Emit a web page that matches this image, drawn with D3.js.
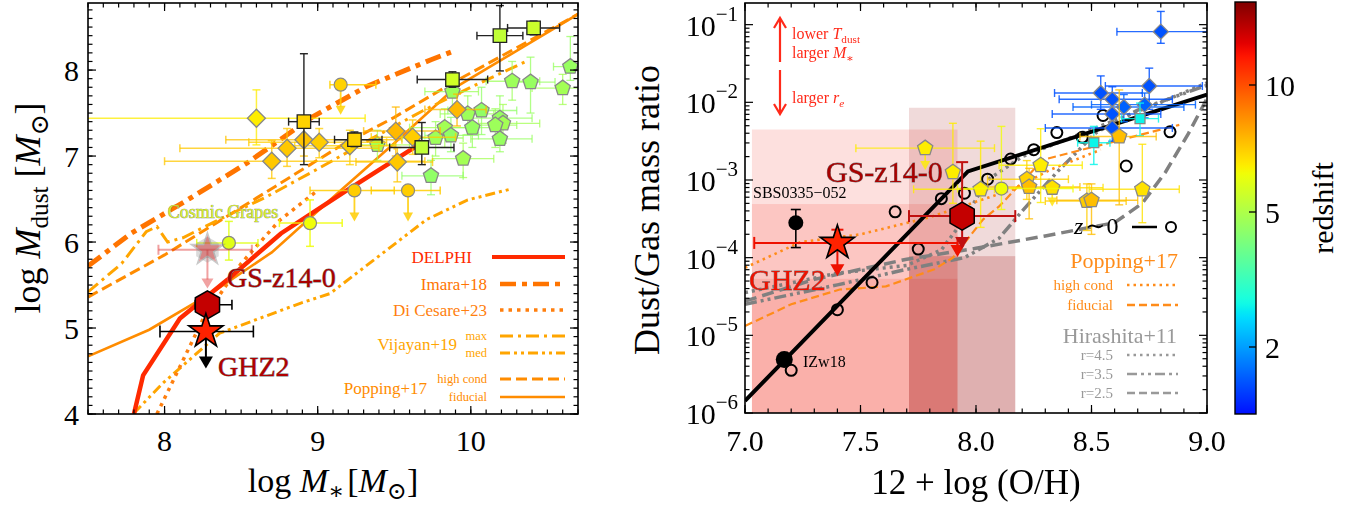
<!DOCTYPE html>
<html><head><meta charset="utf-8">
<script src="https://cdn.jsdelivr.net/npm/d3@7"></script>
<style>
html,body{margin:0;padding:0;background:#fff;}
svg text{font-family:"Liberation Serif","DejaVu Serif","Times New Roman",serif;}
</style></head>
<body><svg id="chart" width="1364" height="510" font-family="Liberation Serif, DejaVu Serif, serif"></svg>
<script>
// ================= DATA =================
// ---- Left panel: model curves (log M*, log Mdust)
const delphiX = [7.80, 7.86, 8.10, 8.41, 8.76, 9.18, 9.64];
const delphiY = [4.00, 4.45, 5.11, 5.56, 6.10, 6.59, 7.11];
const imaraX  = [7.50, 7.78, 8.15, 8.54, 8.97, 9.32, 9.74, 9.90];
const imaraY  = [5.72, 6.10, 6.49, 6.92, 7.46, 7.81, 8.12, 8.23];
const diCesareX = [7.95, 8.10, 8.25, 8.50, 8.75, 9.00];
const diCesareY = [4.00, 4.55, 5.10, 5.75, 6.25, 6.60];
const vijMaxX = [7.50, 7.72, 7.88, 7.95, 8.02, 8.12, 8.40, 8.67, 9.00, 9.35, 9.69, 10.00, 10.36];
const vijMaxY = [5.42, 5.75, 6.12, 6.18, 6.00, 6.05, 6.30, 6.53, 6.85, 7.20, 7.53, 7.80, 8.10];
const vijMedX = [7.80, 7.99, 8.36, 8.89, 9.08, 9.71, 9.98, 10.27];
const vijMedY = [4.01, 4.36, 4.94, 5.29, 5.40, 6.26, 6.49, 6.62];
const popHighX = [7.50, 8.00, 8.50, 9.15, 9.50, 9.90, 10.70];
const popHighY = [5.36, 5.85, 6.40, 7.12, 7.45, 7.87, 8.65];
const popFidX  = [7.50, 7.90, 8.30, 8.70, 9.15, 9.50, 9.90, 10.70];
const popFidY  = [4.67, 4.98, 5.40, 5.88, 6.60, 7.15, 7.80, 8.65];

// ---- Left panel literature points: [logM*, logMdust, z, xlo, xhi, ylo, yhi, upperLimit]
const leftSquares = [
  [8.91, 7.40, 7.0, 8.81, 9.01, 6.90, 8.19, 0],
  [9.24, 7.19, 7.0, 9.11, 9.42, 7.11, 7.28, 0],
  [9.68, 7.10, 5.3, 9.47, 9.89, 6.90, 7.39, 0],
  [9.88, 7.89, 5.6, 9.65, 10.11, 7.80, 7.98, 0],
  [10.19, 8.40, 5.3, 10.04, 10.34, 7.99, 8.75, 0],
  [10.41, 8.49, 5.5, 10.24, 10.58, 8.41, 8.57, 0]
];
const leftDiamonds = [
  [8.60, 7.44, 6.5, 7.30, 9.31, 7.13, 7.77, 0],
  [8.70, 6.94, 7.2, 8.00, 9.70, 6.74, 7.18, 0],
  [8.80, 7.09, 7.2, 8.10, 9.40, 6.88, 7.32, 0],
  [8.91, 7.19, 7.3, 8.40, 9.55, 7.00, 7.36, 0],
  [9.01, 7.16, 7.1, 8.55, 9.45, 6.98, 7.32, 0],
  [9.21, 7.12, 7.0, 8.85, 9.50, 6.90, 7.30, 0],
  [9.51, 7.29, 7.5, 9.30, 9.80, 7.00, 7.57, 0],
  [9.62, 7.22, 7.1, 9.35, 9.90, 7.02, 7.42, 0],
  [9.52, 6.93, 7.2, 9.25, 9.75, 6.70, 7.10, 0],
  [9.91, 7.54, 7.5, 9.70, 10.10, 7.35, 7.72, 0]
];
const leftCircles = [
  [9.15, 7.83, 7.0, 9.08, 9.38, 7.48, null, 1],
  [9.24, 6.60, 7.1, 8.95, 9.50, 6.24, null, 1],
  [9.59, 6.60, 7.1, 9.35, 9.80, 6.24, null, 1],
  [8.95, 6.22, 6.2, 8.75, 9.16, 5.95, 6.49, 0],
  [8.42, 5.99, 5.9, 8.21, 8.61, 5.79, 6.24, 0]
];
const leftPentagons = [
  [10.65, 8.04, 4.6, 10.54, 10.75, 7.88, 8.39, 0],
  [10.27, 7.87, 4.7, 10.10, 10.45, 7.65, 8.10, 0],
  [10.39, 7.86, 4.6, 10.25, 10.55, 7.50, 8.15, 0],
  [10.60, 7.79, 4.8, 10.40, 10.75, 7.60, 7.95, 0],
  [10.07, 7.53, 4.5, 9.85, 10.30, 7.25, 7.80, 0],
  [9.98, 7.49, 4.7, 9.80, 10.15, 7.25, 7.70, 0],
  [10.19, 7.44, 4.6, 10.00, 10.40, 7.20, 7.70, 0],
  [10.21, 7.38, 4.8, 10.05, 10.45, 7.15, 7.60, 0],
  [10.16, 7.36, 4.7, 10.00, 10.30, 7.10, 7.55, 0],
  [10.01, 7.33, 4.6, 9.80, 10.20, 7.10, 7.50, 0],
  [9.83, 7.33, 4.8, 9.60, 10.00, 7.10, 7.55, 0],
  [9.87, 7.24, 4.5, 9.70, 10.05, 7.05, 7.45, 0],
  [9.77, 7.21, 4.7, 9.55, 9.95, 7.00, 7.40, 0],
  [10.19, 7.20, 4.6, 10.00, 10.40, 7.05, 7.40, 0],
  [9.95, 6.97, 4.8, 9.75, 10.15, 6.75, 7.15, 0],
  [9.74, 6.77, 4.5, 9.55, 9.95, 6.55, 6.95, 0],
  [9.88, 7.75, 4.7, 9.70, 10.05, 7.55, 7.90, 0],
  [9.39, 7.13, 4.9, 9.20, 9.60, 6.95, 7.30, 0]
];
// ---- Left panel: highlighted objects [logM*, logMdust, xlo, xhi, arrowTip]
const ghz2Left   = [8.27, 4.96, 7.97, 8.58, 4.53];
const gsz14Left  = [8.28, 5.27, 8.20, 8.44, null];
const grapesLeft = [8.28, 5.91, 7.96, 8.57, 5.46];

// ---- Right panel (12+log(O/H), log10 D/G)
const blackFitX = [7.0, 7.965, 9.0];
const blackFitL = [-5.845, -2.89, -1.90];
const localX = [7.20, 7.40, 7.55, 7.65, 7.75, 7.85, 7.95, 8.05, 8.15, 8.25, 8.35, 8.46, 8.55, 8.65, 8.84];
const localL = [-5.45, -4.67, -4.32, -3.41, -3.89, -3.24, -3.17, -2.99, -2.73, -2.61, -2.39, -2.45, -2.17, -2.82, -2.38];
const popHcX = [7.00, 7.24, 7.50, 7.80, 8.16, 8.32, 8.54];
const popHcL = [-4.13, -3.80, -3.70, -3.48, -3.12, -2.87, -2.61];
const popFdX = [7.00, 7.20, 7.41, 7.61, 7.82, 7.90, 8.03, 8.10, 8.29, 8.88];
const popFdL = [-4.88, -4.60, -4.41, -4.37, -4.15, -4.00, -3.51, -3.34, -2.74, -2.29];
const hir45X = [7.0, 7.4, 7.7, 7.85, 7.95, 8.05, 8.2, 8.5, 8.8, 9.0];
const hir45L = [-4.45, -4.2, -4.1, -3.9, -3.5, -3.0, -2.7, -2.35, -2.0, -1.75];
const hir35X = [7.0, 7.4, 7.7, 7.95, 8.1, 8.2, 8.35, 8.52, 8.7, 9.0];
const hir35L = [-4.6, -4.35, -4.15, -4.0, -3.75, -3.4, -2.9, -2.39, -2.1, -1.78];
const hir25X = [7.0, 7.3, 7.7, 8.0, 8.3, 8.6, 8.72, 8.82, 8.92, 9.0];
const hir25L = [-4.56, -4.28, -4.02, -3.88, -3.72, -3.55, -3.3, -2.9, -2.4, -1.95];
// [x, logDG, z, xlo, xhi, Llo, Lhi, upperLimit]
const rightPentagons = [
  [7.78, -2.59, 6.5, 7.48, 8.08, -2.87, null, 1],
  [7.90, -2.90, 6.5, null, null, -3.30, -2.27, 0],
  [8.02, -3.12, 6.5, 7.73, 8.08, -3.61, -2.50, 0],
  [8.28, -2.81, 6.5, 8.10, 8.46, -3.29, -2.34, 0],
  [8.22, -2.99, 7.0, 8.05, 8.40, -3.25, -2.75, 0],
  [8.23, -3.09, 7.4, 8.05, 8.45, -3.50, -2.85, 0],
  [8.33, -3.10, 6.7, 8.10, 8.55, -3.34, null, 1],
  [8.48, -3.27, 7.1, 8.30, 8.65, -3.65, -3.05, 0],
  [8.50, -3.26, 7.4, 8.35, 8.70, -3.70, -3.05, 0],
  [8.62, -2.44, 7.4, 8.45, 8.78, -3.32, -1.84, 0],
  [8.72, -3.12, 6.7, 8.49, 8.88, -3.55, -2.54, 0]
];
const rightCircles = [
  [8.11, -3.11, 6.2, 7.92, 8.42, -3.38, -2.31, 0]
];
const rightDiamonds = [
  [8.80, -1.09, 1.5, 8.61, 9.00, -1.24, -0.83, 0],
  [8.75, -1.79, 1.5, 8.56, 8.98, -2.09, -1.56, 0],
  [8.54, -1.88, 1.5, 8.34, 8.72, -2.09, -1.66, 0],
  [8.59, -1.96, 1.5, 8.36, 8.85, -2.15, -1.80, 0],
  [8.64, -2.06, 1.6, 8.42, 8.90, -2.25, -1.90, 0],
  [8.59, -2.15, 1.5, 8.33, 8.80, -2.30, -2.00, 0],
  [8.73, -2.03, 1.6, 8.50, 8.95, -2.20, -1.88, 0],
  [8.59, -2.33, 1.5, 8.30, 8.85, -2.50, -2.18, 0]
];
const rightSquares = [
  [8.51, -2.52, 2.7, 8.44, 8.58, -2.80, -2.31, 0],
  [8.71, -2.21, 2.7, 8.63, 8.79, -2.43, -2.01, 0]
];
const sbs0335 = [7.22, -3.55, -3.87, -3.38];
const izw18   = [7.17, -5.31];
// [x, logDG, xlo, xhi, Lhi, arrowTip]
const ghz2Right  = [7.40, -3.81, 7.04, 7.92, -3.64, -4.24];
const gsz14Right = [7.94, -3.465, 7.71, 8.17, -2.77, -3.89];
// shaded constraint boxes: [xlo, xhi], band edges (logDG, top->bottom)
const ghz2BoxX = [7.03, 7.92];
const ghz2BoxL = [-2.35, -3.31, -4.27];
const gsBoxX = [7.71, 8.17];
const gsBoxL = [-2.07, -3.98];

const colorbarTicks = [2, 5, 10];
const leftXTicks = [8, 9, 10];
const leftYTicks = [4, 5, 6, 7, 8];
const rightXTicks = [7.0, 7.5, 8.0, 8.5, 9.0];
const rightYTicks = [1e-6, 1e-5, 1e-4, 1e-3, 1e-2, 1e-1];

// ================= SETUP =================
const FONT = "Liberation Serif, DejaVu Serif, serif";
const svg = d3.select("#chart");
const defs = svg.append("defs");
const PL = {x0: 88, x1: 578, y0: 3, y1: 414};
const PR = {x0: 745, x1: 1207, y0: 3, y1: 413};
const CB = {x0: 1235, x1: 1256, y0: 2, y1: 414};

const xL = d3.scaleLinear().domain([7.5, 10.7]).range([PL.x0, PL.x1]);
const yL = d3.scaleLinear().domain([4, 8.78]).range([PL.y1, PL.y0]);
const xR = d3.scaleLinear().domain([7, 9]).range([PR.x0, PR.x1]);
const yR = d3.scaleLog().domain([1e-6, 0.19]).range([PR.y1, PR.y0]);
const yRL = v => yR(Math.pow(10, v));

// colormap (jet, log(1+z) stretched)
const jr = d3.scaleLinear().domain([0, 0.35, 0.66, 0.89, 1]).range([0, 0, 1, 1, 0.5]).clamp(true);
const jg = d3.scaleLinear().domain([0, 0.125, 0.375, 0.64, 0.91, 1]).range([0, 0, 1, 1, 0, 0]).clamp(true);
const jb = d3.scaleLinear().domain([0, 0.11, 0.34, 0.65, 1]).range([0.5, 1, 1, 0, 0]).clamp(true);
const jet = t => d3.rgb(255 * jr(t), 255 * jg(t), 255 * jb(t)).formatHex();
const cbPos = d3.scaleLinear()
  .domain([1.13, 2, 5, 10, 15.3].map(z => Math.log10(1 + z)))
  .range([CB.y1, 347, 212, 85, CB.y0]).clamp(true);
const zFrac = z => (CB.y1 - cbPos(Math.log10(1 + z))) / (CB.y1 - CB.y0);
const cmap = z => jet(0.14 + 0.86 * zFrac(z));

[["clipL", PL], ["clipR", PR]].forEach(([id, p]) => {
  defs.append("clipPath").attr("id", id).append("rect")
    .attr("x", p.x0).attr("y", p.y0).attr("width", p.x1 - p.x0).attr("height", p.y1 - p.y0);
});

// custom marker shapes (size = r^2)
const polySym = (n, rot, ratio) => ({
  draw(ctx, size) {
    const r = Math.sqrt(size);
    const pts = [];
    for (let i = 0; i < n; i++) {
      const a = rot + i * 2 * Math.PI / n;
      pts.push([r * Math.cos(a), r * Math.sin(a)]);
      if (ratio) {
        const b = a + Math.PI / n;
        pts.push([r * ratio * Math.cos(b), r * ratio * Math.sin(b)]);
      }
    }
    ctx.moveTo(pts[0][0], pts[0][1]);
    for (let i = 1; i < pts.length; i++) ctx.lineTo(pts[i][0], pts[i][1]);
    ctx.closePath();
  }
});
const SYM = {
  pent: polySym(5, -Math.PI / 2),
  hex: polySym(6, -Math.PI / 2),
  diam: polySym(4, -Math.PI / 2),
  sq: polySym(4, -Math.PI / 4),
  star: polySym(5, -Math.PI / 2, 0.382)
};
const symPath = (type, r) => d3.symbol().type(SYM[type]).size(r * r)();

// helpers
function txt(g) { return g.append("text").attr("font-family", FONT); }
function errBar(g, x1, y1, x2, y2, color, sw, cap, op) {
  g.append("line").attr("x1", x1).attr("y1", y1).attr("x2", x2).attr("y2", y2)
    .attr("stroke", color).attr("stroke-width", sw).attr("opacity", op);
  if (cap > 0) {
    const horiz = Math.abs(y1 - y2) < 0.01;
    [[x1, y1], [x2, y2]].forEach(([a, b]) => {
      if (horiz) g.append("line").attr("x1", a).attr("x2", a).attr("y1", b - cap).attr("y2", b + cap)
        .attr("stroke", color).attr("stroke-width", sw).attr("opacity", op);
      else g.append("line").attr("y1", b).attr("y2", b).attr("x1", a - cap).attr("x2", a + cap)
        .attr("stroke", color).attr("stroke-width", sw).attr("opacity", op);
    });
  }
}
function arrowDown(g, x, y0, y1, color, hw, hl, sw, op) {
  g.append("line").attr("x1", x).attr("x2", x).attr("y1", y0).attr("y2", y1 - hl + 1)
    .attr("stroke", color).attr("stroke-width", sw).attr("opacity", op);
  g.append("path").attr("d", `M${x - hw},${y1 - hl}L${x + hw},${y1 - hl}L${x},${y1}Z`)
    .attr("fill", color).attr("opacity", op);
}
function richText(sel, parts, size) {
  let cur = 0;
  parts.forEach(p => {
    const fs = (p.sub || p.sup) ? size * 0.7 : size;
    const target = p.sub ? size * 0.22 : p.sup ? -size * 0.45 : 0;
    const ts = sel.append("tspan").text(p.t).attr("font-size", fs).attr("dy", target - cur);
    if (p.it) ts.attr("font-style", "italic");
    if (p.dx) ts.attr("dx", p.dx);
    cur = target;
  });
  return sel;
}
function frameTicks(g, p, xs, ys, xMaj, xMin, yMaj, yMin) {
  const T = 8, t = 4.5;
  const tick = (x1, y1, x2, y2) => g.append("line").attr("x1", x1).attr("y1", y1).attr("x2", x2).attr("y2", y2)
    .attr("stroke", "#000").attr("stroke-width", 1.2);
  xMin.forEach(v => { const x = xs(v); tick(x, p.y1, x, p.y1 - t); tick(x, p.y0, x, p.y0 + t); });
  xMaj.forEach(v => { const x = xs(v); tick(x, p.y1, x, p.y1 - T); tick(x, p.y0, x, p.y0 + T); });
  yMin.forEach(v => { const y = ys(v); tick(p.x0, y, p.x0 + t, y); tick(p.x1, y, p.x1 - t, y); });
  yMaj.forEach(v => { const y = ys(v); tick(p.x0, y, p.x0 + T, y); tick(p.x1, y, p.x1 - T, y); });
  g.append("rect").attr("x", p.x0).attr("y", p.y0).attr("width", p.x1 - p.x0).attr("height", p.y1 - p.y0)
    .attr("fill", "none").attr("stroke", "#000").attr("stroke-width", 1.6);
}
function drawPoints(g, arr, xs, ys, shape, r, edge, ebColor, ebW, cap, ebOp, fixedColor) {
  arr.forEach(d => {
    const [x, y, z, xlo, xhi, ylo, yhi, ul] = d;
    const c = fixedColor || cmap(z);
    const ec = ebColor || c;
    if (xlo != null) errBar(g, xs(xlo), ys(y), xs(xhi), ys(y), ec, ebW, cap, ebOp);
    if (ul) arrowDown(g, xs(x), ys(y), ys(ylo), ec, 5, 9, ebW + 0.3, ebOp);
    else if (ylo != null) errBar(g, xs(x), ys(ylo), xs(x), ys(yhi), ec, ebW, cap, ebOp);
  });
  arr.forEach(d => {
    const [x, y, z] = d;
    const c = fixedColor || cmap(z);
    if (shape === "circle") g.append("circle").attr("cx", xs(x)).attr("cy", ys(y)).attr("r", r)
      .attr("fill", c).attr("stroke", edge).attr("stroke-width", 1.2);
    else g.append("path").attr("d", symPath(shape, r)).attr("transform", `translate(${xs(x)},${ys(y)})`)
      .attr("fill", c).attr("stroke", edge).attr("stroke-width", 1.3);
  });
}
const range = (a, b, s) => d3.range(Math.round(a / s), Math.round(b / s) + 1).map(i => +(i * s).toFixed(6));

// ================= LEFT PANEL =================
const gL = svg.append("g");
const gLc = gL.append("g").attr("clip-path", "url(#clipL)");
const lineL = d3.line().x(d => xL(d[0])).y(d => yL(d[1]));

const leftModels = [
  {x: popFidX, y: popFidY, c: "#ff8c00", w: 2.6, dash: null},
  {x: popHighX, y: popHighY, c: "#ff8c00", w: 3, dash: "11,5"},
  {x: vijMaxX, y: vijMaxY, c: "#ffa500", w: 3, dash: "13,5,3,5"},
  {x: vijMedX, y: vijMedY, c: "#ffa500", w: 3, dash: "10,4,3,4,3,4"},
  {x: diCesareX, y: diCesareY, c: "#ff7f0e", w: 3.5, dash: "3.5,5"},
  {x: imaraX, y: imaraY, c: "#ff7400", w: 5, dash: "16,6,5,6"},
  {x: delphiX, y: delphiY, c: "#ff2a00", w: 4.5, dash: null}
];
leftModels.forEach(m => {
  gLc.append("path").attr("d", lineL(d3.zip(m.x, m.y))).attr("fill", "none")
    .attr("stroke", m.c).attr("stroke-width", m.w).attr("stroke-dasharray", m.dash);
});

drawPoints(gLc, leftPentagons, xL, yL, "pent", 8, "#888", null, 1.3, 4, 0.75);
drawPoints(gLc, leftCircles, xL, yL, "circle", 6.5, "#888", null, 1.5, 4, 0.85);
drawPoints(gLc, leftDiamonds, xL, yL, "diam", 9, "#888", null, 1.5, 4, 0.75);
drawPoints(gLc, leftSquares, xL, yL, "sq", 9.5, "#222", "#222", 1.4, 4, 1);

// Cosmic Grapes (faded)
(() => {
  const [x, y, xlo, xhi, tip] = grapesLeft;
  errBar(gLc, xL(xlo), yL(y), xL(xhi), yL(y), "#e03030", 2, 5, 0.45);
  arrowDown(gLc, xL(x), yL(y), yL(tip), "#e03030", 6, 10, 2, 0.45);
  gLc.append("path").attr("d", symPath("hex", 13)).attr("transform", `translate(${xL(x)},${yL(y)})`)
    .attr("fill", "#999").attr("opacity", 0.35);
  gLc.append("path").attr("d", symPath("star", 17)).attr("transform", `translate(${xL(x)},${yL(y)})`)
    .attr("fill", "#d02020").attr("stroke", "#888").attr("stroke-width", 1.5).attr("opacity", 0.45);
})();
// GS-z14-0
(() => {
  const [x, y, xlo, xhi] = gsz14Left;
  errBar(gLc, xL(xlo), yL(y), xL(xhi), yL(y), "#000", 1.6, 5, 1);
  gLc.append("path").attr("d", symPath("hex", 14)).attr("transform", `translate(${xL(x)},${yL(y)})`)
    .attr("fill", "#c40000").attr("stroke", "#000").attr("stroke-width", 1.5);
})();
// GHZ2
(() => {
  const [x, y, xlo, xhi, tip] = ghz2Left;
  errBar(gLc, xL(xlo), yL(y), xL(xhi), yL(y), "#000", 1.6, 6, 1);
  arrowDown(gLc, xL(x), yL(y), yL(tip), "#000", 7, 12, 2, 1);
  gLc.append("path").attr("d", symPath("star", 18)).attr("transform", `translate(${xL(x)},${yL(y)})`)
    .attr("fill", "#ff2200").attr("stroke", "#000").attr("stroke-width", 1.6);
})();

// labels in left panel
txt(gL).attr("x", 223).attr("y", 218).attr("text-anchor", "middle").attr("font-size", 18)
  .attr("fill", "#d4ec28").attr("stroke", "#8a8a8a").attr("stroke-width", 0.7).attr("paint-order", "stroke")
  .text("Cosmic Grapes");
txt(gL).attr("x", 227).attr("y", 287).attr("font-size", 28)
  .attr("fill", "#a80000").attr("stroke", "#777").attr("stroke-width", 0.8).attr("paint-order", "stroke")
  .text("GS-z14-0");
txt(gL).attr("x", 218).attr("y", 376).attr("font-size", 28)
  .attr("fill", "#b00000").attr("stroke", "#777").attr("stroke-width", 0.8).attr("paint-order", "stroke")
  .text("GHZ2");

// left legend
const legL = [
  {t: "DELPHI", y: 257, c: "#ff2a00", w: 4, dash: null, tx: 472, lx: 492},
  {t: "Imara+18", y: 284, c: "#ff7400", w: 4.5, dash: "16,6,5,6", tx: 487, lx: 500},
  {t: "Di Cesare+23", y: 310, c: "#ff7f0e", w: 3.5, dash: "3.5,5", tx: 487, lx: 500},
  {t: "max", y: 336, c: "#ffa500", w: 3, dash: "13,5,3,5", tx: 487, lx: 500, small: 1},
  {t: "med", y: 353, c: "#ffa500", w: 3, dash: "10,4,3,4,3,4", tx: 487, lx: 500, small: 1},
  {t: "high cond", y: 379, c: "#ff8c00", w: 3, dash: "11,5", tx: 487, lx: 500, small: 1},
  {t: "fiducial", y: 397, c: "#ff8c00", w: 2.6, dash: null, tx: 487, lx: 500, small: 1}
];
legL.forEach(l => {
  gL.append("line").attr("x1", l.lx).attr("x2", 565).attr("y1", l.y).attr("y2", l.y)
    .attr("stroke", l.c).attr("stroke-width", l.w).attr("stroke-dasharray", l.dash);
  txt(gL).attr("x", l.tx).attr("y", l.y).attr("dy", "0.35em").attr("text-anchor", "end")
    .attr("font-size", l.small ? 12.5 : 17).attr("fill", l.c).text(l.t);
});
txt(gL).attr("x", 457).attr("y", 344).attr("dy", "0.35em").attr("text-anchor", "end")
  .attr("font-size", 17).attr("fill", "#ffa500").text("Vijayan+19");
txt(gL).attr("x", 427).attr("y", 388).attr("dy", "0.35em").attr("text-anchor", "end")
  .attr("font-size", 17).attr("fill", "#ff8c00").text("Popping+17");

frameTicks(gL, PL, xL, yL, leftXTicks, range(7.5, 10.7, 0.1), leftYTicks, range(4, 8.7, 0.1));
leftXTicks.forEach(v => txt(gL).attr("x", xL(v)).attr("y", 451).attr("text-anchor", "middle")
  .attr("font-size", 30).text(v));
leftYTicks.forEach(v => txt(gL).attr("x", 79).attr("y", yL(v)).attr("dy", "0.35em")
  .attr("text-anchor", "end").attr("font-size", 30).text(v));
richText(txt(gL).attr("x", 333).attr("y", 492).attr("text-anchor", "middle"),
  [{t: "log "}, {t: "M", it: 1}, {t: "∗", sub: 1}, {t: "[", dx: 3}, {t: "M", it: 1}, {t: "⊙", sub: 1}, {t: "]"}], 34);
richText(txt(gL).attr("transform", "translate(40,208) rotate(-90)").attr("text-anchor", "middle"),
  [{t: "log "}, {t: "M", it: 1}, {t: "dust", sub: 1}, {t: " ["}, {t: "M", it: 1}, {t: "⊙", sub: 1}, {t: "]"}], 36);

// ================= RIGHT PANEL =================
const gR = svg.append("g");
const gRc = gR.append("g").attr("clip-path", "url(#clipR)");
const lineR = d3.line().x(d => xR(d[0])).y(d => yRL(d[1]));

// shaded boxes (multiply blending)
const ghzBandColors = ["#fde0de", "#fcc6c2", "#fab0aa"];
ghz2BoxL.forEach((top, i) => {
  gRc.append("rect").attr("x", xR(ghz2BoxX[0])).attr("width", xR(ghz2BoxX[1]) - xR(ghz2BoxX[0]))
    .attr("y", yRL(top)).attr("height", yRL(i + 1 < ghz2BoxL.length ? ghz2BoxL[i + 1] : -6.1) - yRL(top))
    .attr("fill", ghzBandColors[i]).style("mix-blend-mode", "multiply");
});
const gsBandColors = ["#f0dada", "#dfb0b0"];
gsBoxL.forEach((top, i) => {
  gRc.append("rect").attr("x", xR(gsBoxX[0])).attr("width", xR(gsBoxX[1]) - xR(gsBoxX[0]))
    .attr("y", yRL(top)).attr("height", yRL(i + 1 < gsBoxL.length ? gsBoxL[i + 1] : -6.1) - yRL(top))
    .attr("fill", gsBandColors[i]).style("mix-blend-mode", "multiply");
});

// model curves
const rightModels = [
  {x: hir25X, y: hir25L, c: "#808080", w: 3.5, dash: "12,6"},
  {x: hir35X, y: hir35L, c: "#808080", w: 3.5, dash: "12,4,3,4,3,4"},
  {x: hir45X, y: hir45L, c: "#808080", w: 3.5, dash: "3,4"},
  {x: popFdX, y: popFdL, c: "#ff8c1a", w: 2.2, dash: "8,4"},
  {x: popHcX, y: popHcL, c: "#ff8c1a", w: 2.6, dash: "2.5,4"},
  {x: blackFitX, y: blackFitL, c: "#000", w: 4, dash: null}
];
rightModels.forEach(m => {
  gRc.append("path").attr("d", lineR(d3.zip(m.x, m.y))).attr("fill", "none")
    .attr("stroke", m.c).attr("stroke-width", m.w).attr("stroke-dasharray", m.dash);
});
// local galaxies (open circles)
d3.zip(localX, localL).forEach(([x, l]) => {
  gRc.append("circle").attr("cx", xR(x)).attr("cy", yRL(l)).attr("r", 5.5)
    .attr("fill", "none").attr("stroke", "#000").attr("stroke-width", 2);
});
drawPoints(gRc, rightDiamonds, xR, yRL, "diam", 7.5, "#888", null, 1.4, 4, 0.85);
drawPoints(gRc, rightSquares, xR, yRL, "sq", 7, "#888", null, 1.4, 4, 0.85);
drawPoints(gRc, rightPentagons, xR, yRL, "pent", 8, "#888", null, 1.4, 4, 0.8);
drawPoints(gRc, rightCircles, xR, yRL, "circle", 6.5, "#888", null, 1.4, 4, 0.8);

// SBS0335 & IZw18
errBar(gRc, xR(sbs0335[0]), yRL(sbs0335[2]), xR(sbs0335[0]), yRL(sbs0335[3]), "#000", 1.6, 5, 1);
gRc.append("circle").attr("cx", xR(sbs0335[0])).attr("cy", yRL(sbs0335[1])).attr("r", 7.5).attr("fill", "#000");
gRc.append("circle").attr("cx", xR(izw18[0])).attr("cy", yRL(izw18[1])).attr("r", 8.5).attr("fill", "#000");
txt(gR).attr("x", 753).attr("y", 198).attr("font-size", 16).text("SBS0335−052");
txt(gR).attr("x", 803).attr("y", 367).attr("font-size", 16).text("IZw18");

// GHZ2 right
(() => {
  const [x, l, xlo, xhi, lhi, tip] = ghz2Right;
  errBar(gRc, xR(xlo), yRL(l), xR(xhi), yRL(l), "#ee1100", 2, 6, 1);
  errBar(gRc, xR(x), yRL(l), xR(x), yRL(lhi), "#ee1100", 2, 0, 1);
  gRc.append("line").attr("x1", xR(x) - 6).attr("x2", xR(x) + 6).attr("y1", yRL(lhi)).attr("y2", yRL(lhi))
    .attr("stroke", "#ee1100").attr("stroke-width", 2);
  arrowDown(gRc, xR(x), yRL(l), yRL(tip), "#ee1100", 7, 12, 2, 1);
  errBar(gRc, xR(xhi), yRL(l), xR(xhi), yRL(l) + 12, "#ee1100", 2, 0, 1);
  gRc.append("path").attr("d", `M${xR(xhi) - 7},${yRL(l) + 2}L${xR(xhi) + 7},${yRL(l) + 2}L${xR(xhi)},${yRL(l) + 14}Z`)
    .attr("fill", "#ee1100");
  gRc.append("path").attr("d", symPath("star", 18)).attr("transform", `translate(${xR(x)},${yRL(l)})`)
    .attr("fill", "#ff2200").attr("stroke", "#000").attr("stroke-width", 1.6);
})();
// GS-z14-0 right
(() => {
  const [x, l, xlo, xhi, lhi, tip] = gsz14Right;
  errBar(gRc, xR(xlo), yRL(l), xR(xhi), yRL(l), "#c01010", 2, 6, 1);
  errBar(gRc, xR(x), yRL(l), xR(x), yRL(lhi), "#c01010", 2, 0, 1);
  gRc.append("line").attr("x1", xR(x) - 6).attr("x2", xR(x) + 6).attr("y1", yRL(lhi)).attr("y2", yRL(lhi))
    .attr("stroke", "#c01010").attr("stroke-width", 2);
  arrowDown(gRc, xR(x), yRL(l), yRL(tip), "#c01010", 7, 12, 2, 1);
  gRc.append("path").attr("d", symPath("hex", 14)).attr("transform", `translate(${xR(x)},${yRL(l)})`)
    .attr("fill", "#c40000").attr("stroke", "#000").attr("stroke-width", 1.5);
})();
txt(gR).attr("x", 826).attr("y", 182).attr("font-size", 30)
  .attr("fill", "#a80000").attr("stroke", "#777").attr("stroke-width", 0.8).attr("paint-order", "stroke")
  .text("GS-z14-0");
txt(gR).attr("x", 749).attr("y", 290).attr("font-size", 30)
  .attr("fill", "#ee1100").attr("stroke", "#777").attr("stroke-width", 0.8).attr("paint-order", "stroke")
  .text("GHZ2");

// annotation arrows
(() => {
  const c = "#ff2a1a", ax = 780;
  const g = gR.append("g").attr("stroke", c).attr("stroke-width", 2.2).attr("fill", "none");
  g.append("line").attr("x1", ax).attr("x2", ax).attr("y1", 62).attr("y2", 19);
  g.append("path").attr("d", `M${ax - 6},${28}L${ax},${18}L${ax + 6},${28}`);
  g.append("line").attr("x1", ax).attr("x2", ax).attr("y1", 70).attr("y2", 113);
  g.append("path").attr("d", `M${ax - 6},${104}L${ax},${114}L${ax + 6},${104}`);
  richText(txt(gR).attr("x", 792).attr("y", 39).attr("fill", c),
    [{t: "lower "}, {t: "T", it: 1}, {t: "dust", sub: 1}], 16);
  richText(txt(gR).attr("x", 792).attr("y", 58).attr("fill", c),
    [{t: "larger "}, {t: "M", it: 1}, {t: "∗", sub: 1}], 16);
  richText(txt(gR).attr("x", 792).attr("y", 103).attr("fill", c),
    [{t: "larger "}, {t: "r", it: 1}, {t: "e", sub: 1, it: 1}], 16);
})();

// z~0 legend
richText(txt(gR).attr("x", 1074).attr("y", 234),
  [{t: "z", it: 1}, {t: "∼", dx: 2}, {t: "0", dx: 1}], 24);
gR.append("line").attr("x1", 1132).attr("x2", 1157).attr("y1", 227).attr("y2", 227).attr("stroke", "#000").attr("stroke-width", 2.5);
gR.append("circle").attr("cx", 1171).attr("cy", 227).attr("r", 5).attr("fill", "none").attr("stroke", "#000").attr("stroke-width", 2);

// right legend
txt(gR).attr("x", 1178).attr("y", 268).attr("text-anchor", "end").attr("font-size", 22)
  .attr("fill", "#ff8c1a").text("Popping+17");
txt(gR).attr("x", 1177).attr("y", 343).attr("text-anchor", "end").attr("font-size", 22)
  .attr("fill", "#999").text("Hirashita+11");
const legR = [
  {t: "high cond", y: 285, c: "#ff8c1a", w: 2.4, dash: "2.5,4"},
  {t: "fiducial", y: 305, c: "#ff8c1a", w: 2.4, dash: "8,4"},
  {t: "r=4.5", y: 355, c: "#999", w: 2.6, dash: "2.5,4"},
  {t: "r=3.5", y: 374, c: "#999", w: 2.6, dash: "10,4,3,4,3,4"},
  {t: "r=2.5", y: 393, c: "#999", w: 2.6, dash: "8,4"}
];
legR.forEach(l => {
  gR.append("line").attr("x1", 1127).attr("x2", 1178).attr("y1", l.y).attr("y2", l.y)
    .attr("stroke", l.c).attr("stroke-width", l.w).attr("stroke-dasharray", l.dash);
  txt(gR).attr("x", 1113).attr("y", l.y).attr("dy", "0.35em").attr("text-anchor", "end")
    .attr("font-size", 15).attr("fill", l.c).text(l.t);
});

const rMinorY = [];
for (let e = -6; e <= -1; e++) for (let k = 2; k <= 9; k++) { const v = k * Math.pow(10, e); if (v < 0.19) rMinorY.push(v); }
frameTicks(gR, PR, xR, yR, rightXTicks, range(7, 9, 0.1), rightYTicks, rMinorY);
rightXTicks.forEach(v => txt(gR).attr("x", xR(v)).attr("y", 451).attr("text-anchor", "middle")
  .attr("font-size", 30).text(v.toFixed(1)));
rightYTicks.forEach(v => {
  const t = txt(gR).attr("x", 738).attr("y", yR(v) + 11).attr("text-anchor", "end");
  t.append("tspan").attr("font-size", 30).text("10");
  t.append("tspan").attr("font-size", 21).attr("dy", -15).text("−" + Math.round(-Math.log10(v)));
});
txt(gR).attr("x", 976).attr("y", 494).attr("text-anchor", "middle").attr("font-size", 35).text("12 + log (O/H)");
txt(gR).attr("transform", "translate(659,210) rotate(-90)").attr("text-anchor", "middle")
  .attr("font-size", 36).text("Dust/Gas mass ratio");

// ================= COLORBAR =================
const grad = defs.append("linearGradient").attr("id", "cbgrad").attr("x1", 0).attr("y1", 1).attr("x2", 0).attr("y2", 0);
d3.range(0, 61).forEach(i => {
  const t = i / 60;
  grad.append("stop").attr("offset", t).attr("stop-color", jet(0.14 + 0.86 * t));
});
const gC = svg.append("g");
gC.append("rect").attr("x", CB.x0).attr("y", CB.y0).attr("width", CB.x1 - CB.x0).attr("height", CB.y1 - CB.y0)
  .attr("fill", "url(#cbgrad)").attr("stroke", "#000").attr("stroke-width", 1.4);
colorbarTicks.forEach(z => {
  const y = cbPos(Math.log10(1 + z));
  gC.append("line").attr("x1", CB.x1 - 7).attr("x2", CB.x1).attr("y1", y).attr("y2", y).attr("stroke", "#000").attr("stroke-width", 1.3);
  txt(gC).attr("x", 1265).attr("y", y).attr("dy", "0.35em").attr("font-size", 30).text(z);
});
txt(gC).attr("transform", "translate(1333,208) rotate(-90)").attr("text-anchor", "middle")
  .attr("font-size", 30).text("redshift");
</script></body></html>
